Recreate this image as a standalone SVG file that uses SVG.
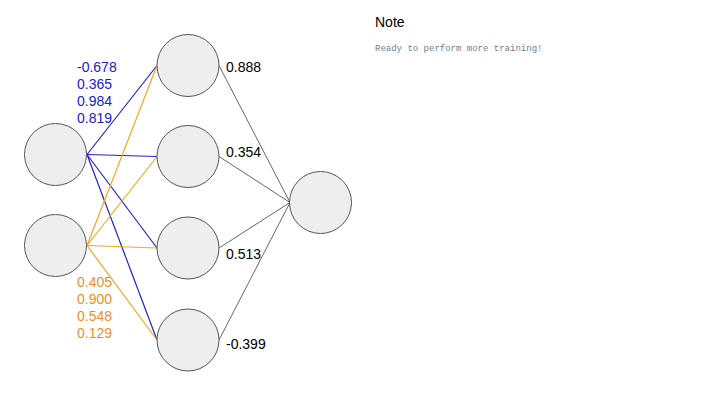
<svg xmlns="http://www.w3.org/2000/svg" width="720" height="405" viewBox="0 0 720 405">
<style>
.n{fill:#eeeeee;stroke:#555555;stroke-width:1}
.b{stroke:#2020d0;stroke-width:1.2;fill:none}
.o{stroke:#f5a623;stroke-width:1.2;fill:none}
.g{stroke:#666666;stroke-width:1;fill:none}
.t{font-family:"Liberation Sans",Arial,sans-serif;font-size:14px}
.tb{fill:#2020d0}
.to{fill:#f0901a}
.tk{fill:#000000}
.m{font-family:"Liberation Mono","DejaVu Sans Mono",monospace;font-size:9px;fill:#708090}
</style>
<rect width="720" height="405" fill="#ffffff"/>
<g id="connectors">
<line class="b" x1="87" y1="154.5" x2="157" y2="65.5"/>
<line class="b" x1="87" y1="154.5" x2="157" y2="156.5"/>
<line class="b" x1="87" y1="154.5" x2="157" y2="248"/>
<line class="b" x1="87" y1="154.5" x2="157" y2="340"/>
<line class="o" x1="87" y1="245.5" x2="157" y2="65.5"/>
<line class="o" x1="87" y1="245.5" x2="157" y2="156.5"/>
<line class="o" x1="87" y1="245.5" x2="157" y2="248"/>
<line class="o" x1="87" y1="245.5" x2="157" y2="340"/>
<line class="g" x1="219" y1="65.5" x2="290" y2="202.5"/>
<line class="g" x1="219" y1="156.5" x2="290" y2="202.5"/>
<line class="g" x1="219" y1="248" x2="290" y2="202.5"/>
<line class="g" x1="219" y1="340" x2="290" y2="202.5"/>
</g>
<g id="in1"><circle class="n" cx="55.5" cy="154.5" r="31"/></g>
<g id="in2"><circle class="n" cx="55.5" cy="245.5" r="31"/></g>
<g id="h1"><circle class="n" cx="188" cy="65.5" r="31"/></g>
<g id="h2"><circle class="n" cx="188" cy="156.5" r="31"/></g>
<g id="h3"><circle class="n" cx="188" cy="248" r="31"/></g>
<g id="h4"><circle class="n" cx="188" cy="340" r="31"/></g>
<g id="out"><circle class="n" cx="320.5" cy="202.5" r="31"/></g>
<g id="labels-blue" class="t tb">
<text x="77" y="72">-0.678</text>
<text x="77" y="89">0.365</text>
<text x="77" y="106">0.984</text>
<text x="77" y="123">0.819</text>
</g>
<g id="labels-orange" class="t to">
<text x="77" y="287">0.405</text>
<text x="77" y="304">0.900</text>
<text x="77" y="321">0.548</text>
<text x="77" y="338">0.129</text>
</g>
<g id="labels-out" class="t tk">
<text x="226" y="72">0.888</text>
<text x="226" y="157">0.354</text>
<text x="226" y="259">0.513</text>
<text x="226" y="349">-0.399</text>
</g>
<g id="note">
<text class="t tk" x="375" y="27">Note</text>
<text class="m" x="375" y="51">Ready to perform more training!</text>
</g>
</svg>
